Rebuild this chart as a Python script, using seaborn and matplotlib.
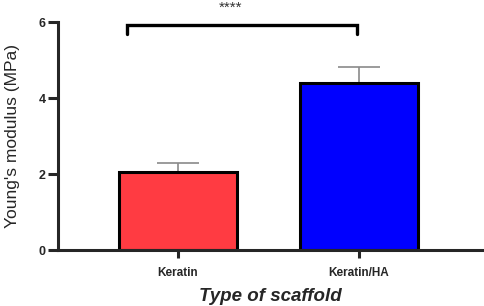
import pandas as pd
import numpy as np
import matplotlib
matplotlib.use('Agg')
import matplotlib.pyplot as plt
import seaborn as sns

# values
scaffolds = ['Keratin', 'Keratin/HA']
modulus = [2.06, 4.40]
modulus_sd = [0.24, 0.42]
bar_colors = ['#FF3B42', '#0000FF']
y_ticks = [0, 2, 4, 6]
sig_label = '****'
sig_height = 5.92

df = pd.DataFrame({'scaffold': scaffolds, 'modulus': modulus, 'sd': modulus_sd})

sns.set_style('ticks')
plt.rcParams['font.family'] = ['Liberation Sans', 'DejaVu Sans']

fig = plt.figure(figsize=(4.84, 3.06), dpi=100)
ax = fig.add_axes([0.12, 0.183, 0.876, 0.745])

sns.barplot(data=df, x='scaffold', y='modulus', hue='scaffold', palette=bar_colors,
            width=0.65, edgecolor='black', linewidth=2.2, errorbar=None,
            legend=False, ax=ax, saturation=1, zorder=2)

# upper error bars only, behind the bars
x_pos = np.arange(len(scaffolds))
ax.errorbar(x_pos, df['modulus'], yerr=[np.zeros(len(scaffolds)), df['sd']],
            fmt='none', ecolor='#8a8a8a', elinewidth=1.2, capsize=15, capthick=1.2,
            zorder=1)

# significance bracket
ax.plot([x_pos[0] - 0.28, x_pos[0] - 0.28, x_pos[1] - 0.01, x_pos[1] - 0.01],
        [sig_height - 0.24, sig_height, sig_height, sig_height - 0.24],
        color='black', lw=2.4, clip_on=False, solid_joinstyle='miter')
ax.text(0.29, 6.38, sig_label, ha='center', va='center', fontsize=11, color='#333333')

ax.set_xlim(-0.663, 1.68)
ax.set_ylim(0, 6)
ax.set_yticks(y_ticks)
ax.set_yticklabels([str(t) for t in y_ticks], fontsize=9, fontweight='bold')
ax.set_xticks(x_pos)
ax.set_xticklabels(scaffolds, fontsize=8.5, fontweight='bold')
ax.tick_params(axis='y', length=7, width=2.2, pad=2)
ax.tick_params(axis='x', length=6, width=2.2, pad=6)

ax.set_ylabel("Young's modulus (MPa)", fontsize=12.5, labelpad=13)
ax.set_xlabel('Type of scaffold', fontsize=13.5, fontweight='bold', style='italic', labelpad=7)

for s in ['top', 'right']:
    ax.spines[s].set_visible(False)
for s in ['left', 'bottom']:
    ax.spines[s].set_linewidth(2.2)

fig.savefig('out.png', dpi=100)
plt.close(fig)
